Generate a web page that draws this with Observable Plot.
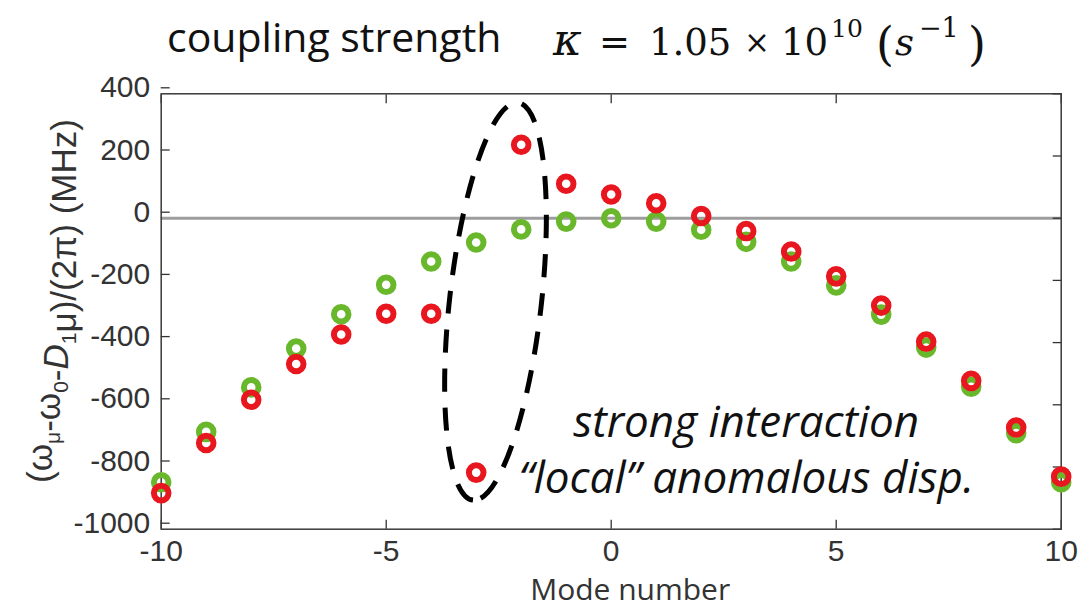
<!DOCTYPE html>
<html>
<head>
<meta charset="utf-8">
<script src="https://cdn.jsdelivr.net/npm/d3@7"></script>
<script src="https://cdn.jsdelivr.net/npm/@observablehq/plot@0.6"></script>
<style>
  html, body { margin: 0; padding: 0; background: #fff; }
  #wrap { width: 1090px; height: 608px; overflow: hidden; }
  #wrap svg { display: block; }
</style>
</head>
<body>
<div id="wrap">
  <div id="title"></div>
  <div id="chart"></div>
</div>
<script>
// Mode number μ and the measured offsets (MHz) of each resonance
const modes = [-10, -9, -8, -7, -6, -5, -4, -3, -2, -1, 0, 1, 2, 3, 4, 5, 6, 7, 8, 9, 10];
const uncoupled = [-849, -687, -544, -419, -309, -214, -139, -78, -36, -11, 0, -11, -37, -76, -139, -216, -310, -416, -542, -691, -849];
const coupled = [-884, -723, -584, -469, -374, -307, -307, -818, 236, 111, 76, 48, 7, -41, -107, -187, -281, -397, -523, -673, -831];

const xTicks = [-10, -5, 0, 5, 10];
const yTicks = [400, 200, 0, -200, -400, -600, -800, -1000];

const greenColor = "#69b82c";
const redColor = "#e8161e";

// Dashed ellipse marking the interaction region: two tips (mode, MHz) and half-width in modes
const ellipseTop = {mode: -2.06, value: 370};
const ellipseBottom = {mode: -3.06, value: -908};
const ellipseHalfWidth = 1.02;

const annotation = "strong interaction\n\u201clocal\u201d anomalous disp.";

const rows = modes.map((m, i) => ({mode: m, uncoupled: uncoupled[i], coupled: coupled[i]}));

// Title strip: plain words followed by the coupling-strength expression
{
  const ts = d3.select("#title").append("svg").attr("width", 1090).attr("height", 70);
  ts.append("text").attr("x", 167).attr("y", 52)
    .attr("font-family", "'Open Sans', sans-serif").attr("font-size", 41).attr("fill", "#111")
    .text("coupling strength");
  const m = ts.append("text")
    .attr("font-family", "'DejaVu Serif', serif").attr("font-size", 37).attr("fill", "#111");
  const piece = (x, y, s, opts = {}) => {
    const p = m.append("tspan").attr("x", x).attr("y", y).text(s);
    if (opts.size) p.attr("font-size", opts.size);
    if (opts.italic) p.attr("font-style", "italic");
  };
  piece(553, 55, "κ", {size: 44, italic: true});
  piece(599, 55, "=");
  piece(649, 55, "1.05");
  piece(744, 53, "×", {size: 31});
  piece(781, 55, "10");
  piece(831, 37, "10", {size: 25});
  piece(876, 60, "(", {size: 46});
  piece(895, 55, "s", {italic: true});
  piece(919, 37, "−1", {size: 27});
  piece(968, 60, ")", {size: 46});
}

const plot = Plot.plot({
  width: 1090,
  height: 538,
  marginLeft: 160.7,
  marginRight: 29.3,
  marginTop: 23.3,
  marginBottom: 79.3,
  style: {fontFamily: "'Liberation Sans', Arial, sans-serif", fontSize: "30px", color: "#333", background: "#fff"},
  x: {domain: [-10, 10]},
  y: {domain: [-1000, 400]},
  marks: [
    Plot.ruleY([0], {stroke: "#9d9d9d", strokeWidth: 3}),
    Plot.axisX({ticks: xTicks, tickFormat: d => String(d), tickSize: -9, tickPadding: 19, label: null, stroke: "#333", strokeWidth: 1.3, fill: "#333"}),
    Plot.axisX({anchor: "top", ticks: xTicks, tickSize: -9, tickFormat: () => "", label: null, stroke: "#333", strokeWidth: 1.3}),
    Plot.axisY({ticks: yTicks, tickFormat: d => String(d), tickSize: -9, tickPadding: 20, dy: -6, label: null, stroke: "#333", strokeWidth: 1.3, fill: "#333"}),
    Plot.axisY({anchor: "right", ticks: yTicks, tickSize: -9, tickFormat: () => "", label: null, stroke: "#333", strokeWidth: 1.3}),
    Plot.frame({stroke: "#3a3a3a", strokeWidth: 1.5}),
    Plot.dot(rows, {x: "mode", y: "uncoupled", r: 7.3, stroke: greenColor, strokeWidth: 6, fill: "none"}),
    Plot.dot(rows, {x: "mode", y: "coupled", r: 7.3, stroke: redColor, strokeWidth: 6, fill: "none"}),
    Plot.text([annotation], {
      x: () => 3, y: () => -735, text: d => d,
      fontFamily: "'Open Sans', sans-serif", fontStyle: "italic", fontSize: 44,
      lineHeight: 56 / 44, textAnchor: "middle", lineAnchor: "middle", fill: "#111",
      letterSpacing: "0.4px"
    }),
    Plot.text(["Mode number"], {
      frameAnchor: "bottom", dx: 19, dy: 70.3, text: d => d,
      fontFamily: "'Open Sans', sans-serif", fontSize: 30, fill: "#333", lineAnchor: "bottom",
      letterSpacing: "2.2px"
    })
  ]
});

document.getElementById("chart").appendChild(plot);

// Dashed ellipse drawn through the plot's own scales
const sx = plot.scale("x").apply;
const sy = plot.scale("y").apply;
const svg = d3.select(plot);
{
  const x1 = sx(ellipseTop.mode), y1 = sy(ellipseTop.value);
  const x2 = sx(ellipseBottom.mode), y2 = sy(ellipseBottom.value);
  const cx = (x1 + x2) / 2, cy = (y1 + y2) / 2;
  const semiMajor = Math.hypot(x2 - x1, y2 - y1) / 2;
  const semiMinor = Math.abs(sx(ellipseHalfWidth) - sx(0));
  const angle = Math.atan2(y2 - y1, x2 - x1) * 180 / Math.PI;
  svg.append("ellipse")
    .attr("cx", cx).attr("cy", cy)
    .attr("rx", semiMajor).attr("ry", semiMinor)
    .attr("transform", `rotate(${angle} ${cx} ${cy})`)
    .attr("fill", "none").attr("stroke", "#000")
    .attr("stroke-width", 5).attr("stroke-dasharray", "23 16");
}

// Rotated y-axis label with subscripts
{
  const t = svg.append("text")
    .attr("transform", "translate(52,231) rotate(-90)")
    .attr("text-anchor", "middle")
    .attr("font-family", "'Liberation Sans', Arial, sans-serif")
    .attr("font-size", 35)
    .attr("fill", "#333");
  const sub = (s) => { t.append("tspan").attr("dy", 8).attr("font-size", 21).text(s); t.append("tspan").attr("dy", -8).text(""); };
  t.append("tspan").text("(ω");
  sub("μ");
  t.append("tspan").text("-ω");
  sub("0");
  t.append("tspan").text("-");
  t.append("tspan").attr("font-style", "italic").text("D");
  sub("1");
  t.append("tspan").text("μ)/(2π) (MHz)");
}
</script>
</body>
</html>
